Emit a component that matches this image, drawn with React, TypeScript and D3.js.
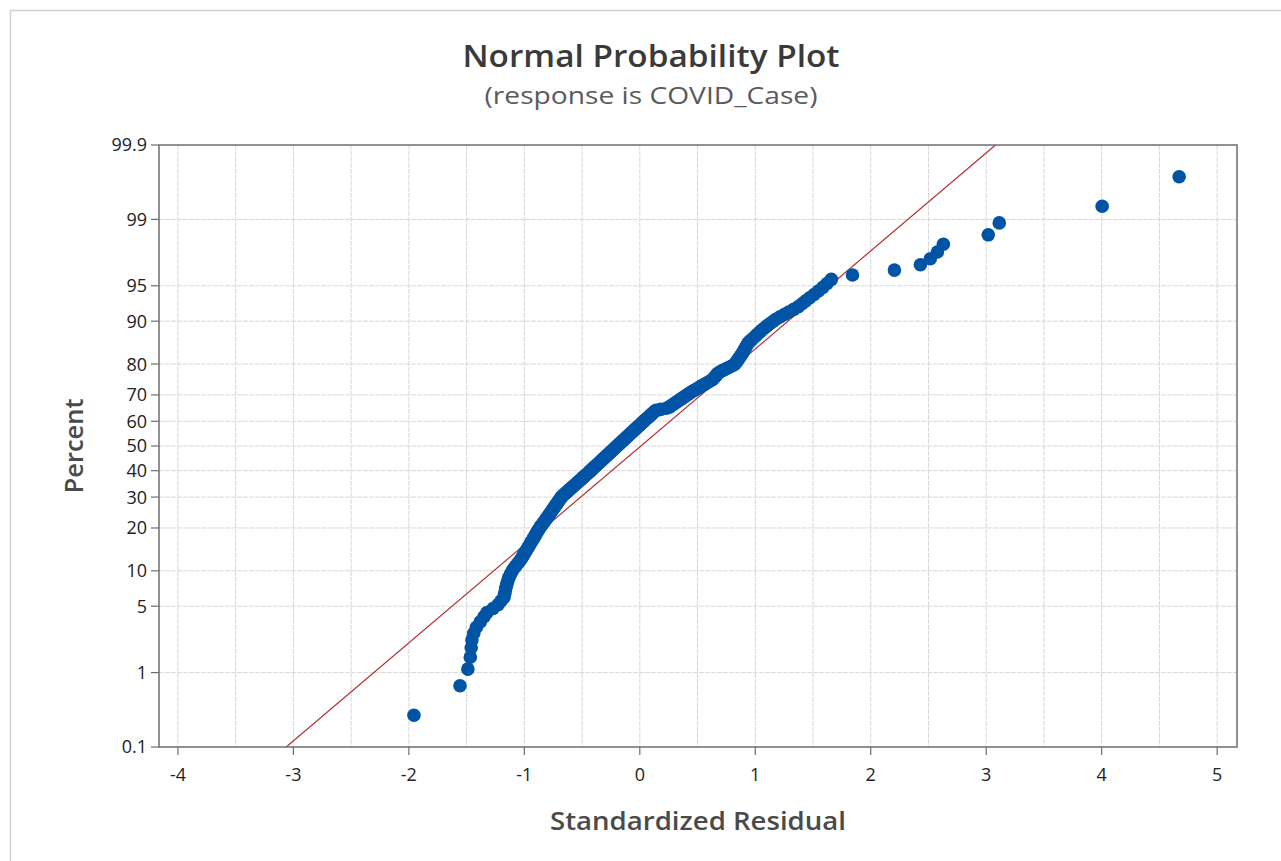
import React from "react";
import * as d3 from "d3";

// Sorted standardized residuals
const residuals: number[] = [
  -1.956, -1.557, -1.489, -1.468, -1.460, -1.454, -1.438, -1.415, -1.382, -1.351,
  -1.324, -1.271, -1.227, -1.203, -1.177, -1.171, -1.166, -1.161, -1.154, -1.148,
  -1.141, -1.134, -1.124, -1.113, -1.103, -1.090, -1.075, -1.061, -1.047, -1.034,
  -1.022, -1.013, -1.003, -0.994, -0.984, -0.975, -0.966, -0.957, -0.949, -0.941,
  -0.932, -0.924, -0.916, -0.908, -0.901, -0.893, -0.886, -0.878, -0.871, -0.863,
  -0.854, -0.845, -0.836, -0.828, -0.819, -0.811, -0.803, -0.795, -0.787, -0.779,
  -0.772, -0.765, -0.757, -0.749, -0.742, -0.735, -0.728, -0.720, -0.713, -0.706,
  -0.699, -0.692, -0.685, -0.678, -0.670, -0.658, -0.648, -0.637, -0.625, -0.615,
  -0.604, -0.593, -0.583, -0.573, -0.562, -0.551, -0.541, -0.531, -0.520, -0.510,
  -0.500, -0.490, -0.480, -0.470, -0.459, -0.449, -0.440, -0.430, -0.420, -0.411,
  -0.402, -0.393, -0.383, -0.373, -0.363, -0.354, -0.345, -0.336, -0.326, -0.317,
  -0.308, -0.298, -0.289, -0.280, -0.271, -0.261, -0.252, -0.243, -0.233, -0.224,
  -0.215, -0.206, -0.196, -0.187, -0.178, -0.168, -0.159, -0.150, -0.140, -0.131,
  -0.122, -0.112, -0.103, -0.094, -0.084, -0.075, -0.066, -0.056, -0.047, -0.038,
  -0.028, -0.019, -0.010, 0.001, 0.010, 0.019, 0.029, 0.038, 0.047, 0.058,
  0.069, 0.078, 0.088, 0.099, 0.108, 0.118, 0.128, 0.140, 0.180, 0.230,
  0.254, 0.267, 0.281, 0.294, 0.308, 0.322, 0.337, 0.352, 0.365, 0.379,
  0.395, 0.409, 0.423, 0.438, 0.453, 0.471, 0.489, 0.506, 0.522, 0.539,
  0.559, 0.575, 0.594, 0.613, 0.631, 0.640, 0.650, 0.659, 0.669, 0.679,
  0.696, 0.719, 0.743, 0.766, 0.790, 0.814, 0.827, 0.836, 0.845, 0.854,
  0.862, 0.872, 0.881, 0.889, 0.897, 0.905, 0.913, 0.921, 0.930, 0.938,
  0.952, 0.970, 0.986, 1.004, 1.020, 1.040, 1.057, 1.080, 1.102, 1.126,
  1.152, 1.178, 1.214, 1.252, 1.290, 1.333, 1.373, 1.405, 1.437, 1.472,
  1.509, 1.547, 1.585, 1.621, 1.659, 1.842, 2.205, 2.430, 2.516, 2.577,
  2.629, 3.018, 3.113, 4.004, 4.671,
];

// Fitted normal reference line parameters
const lineMean = 0.009;
const lineSd = 0.994;

const yTickValues: number[] = [0.1, 1, 5, 10, 20, 30, 40, 50, 60, 70, 80, 90, 95, 99, 99.9];
const yTickLabels: string[] = ["0.1", "1", "5", "10", "20", "30", "40", "50", "60", "70", "80", "90", "95", "99", "99.9"];
const xTickValues: number[] = [-4, -3, -2, -1, 0, 1, 2, 3, 4, 5];
const xGridValues: number[] = [-4, -3.5, -3, -2.5, -2, -1.5, -1, -0.5, 0, 0.5, 1, 1.5, 2, 2.5, 3, 3.5, 4, 4.5, 5];

const titleText = "Normal Probability Plot";
const subtitleText = "(response is COVID_Case)";
const xLabel = "Standardized Residual";
const yLabel = "Percent";

// inverse standard normal CDF (Acklam)
function qnorm(p: number): number {
  const a = [-3.969683028665376e1, 2.209460984245205e2, -2.759285104469687e2, 1.38357751867269e2, -3.066479806614716e1, 2.506628277459239];
  const b = [-5.447609879822406e1, 1.615858368580409e2, -1.556989798598866e2, 6.680131188771972e1, -1.328068155288572e1];
  const c = [-7.784894002430293e-3, -3.223964580411365e-1, -2.400758277161838, -2.549732539343734, 4.374664141464968, 2.938163982698783];
  const d = [7.784695709041462e-3, 3.224671290700398e-1, 2.445134137142996, 3.754408661907416];
  const pl = 0.02425;
  if (p < pl) {
    const q = Math.sqrt(-2 * Math.log(p));
    return (((((c[0] * q + c[1]) * q + c[2]) * q + c[3]) * q + c[4]) * q + c[5]) / ((((d[0] * q + d[1]) * q + d[2]) * q + d[3]) * q + 1);
  }
  if (p <= 1 - pl) {
    const q = p - 0.5;
    const r = q * q;
    return ((((((a[0] * r + a[1]) * r + a[2]) * r + a[3]) * r + a[4]) * r + a[5]) * q) / (((((b[0] * r + b[1]) * r + b[2]) * r + b[3]) * r + b[4]) * r + 1);
  }
  const q = Math.sqrt(-2 * Math.log(1 - p));
  return -(((((c[0] * q + c[1]) * q + c[2]) * q + c[3]) * q + c[4]) * q + c[5]) / ((((d[0] * q + d[1]) * q + d[2]) * q + d[3]) * q + 1);
}

const W = 1281;
const H = 861;
const plotL = 159;
const plotR = 1237;
const plotT = 145;
const plotB = 747;
const FONT = "'Open Sans', 'Noto Sans', sans-serif";

export default function App() {
  const x = d3.scaleLinear().domain([-4.164, 5.172]).range([plotL, plotR]);
  const zMax = qnorm(0.999);
  const yz = d3.scaleLinear().domain([-zMax, zMax]).range([plotB, plotT]);
  const y = (pct: number) => yz(qnorm(pct / 100));

  const n = residuals.length;
  const pts = residuals.map((r, i) => ({ r, pct: ((i + 1 - 0.3) / (n + 0.4)) * 100 }));

  const lineZ0 = -zMax;
  const lineZ1 = zMax;
  const lx0 = x(lineMean + lineSd * lineZ0);
  const lx1 = x(lineMean + lineSd * lineZ1);

  return (
    <svg width={W} height={H} style={{ position: "absolute", left: 0, top: 0, display: "block", background: "#fff" }}>
      <defs>
        <clipPath id="plotclip">
          <rect x={plotL} y={plotT} width={plotR - plotL} height={plotB - plotT} />
        </clipPath>
      </defs>
      {/* outer frame */}
      <rect x={10.5} y={10.5} width={1300} height={900} fill="#fff" stroke="#d2d2d2" strokeWidth={1.5} />

      {/* titles */}
      <text x={651} y={67} textAnchor="middle" fontFamily={FONT} fontSize={30} fontWeight={600} fill="#3a3a3a" textLength={377} lengthAdjust="spacingAndGlyphs">
        {titleText}
      </text>
      <text x={651} y={104} textAnchor="middle" fontFamily={FONT} fontSize={23} fill="#5a5a5a" textLength={333} lengthAdjust="spacingAndGlyphs">
        {subtitleText}
      </text>

      {/* grid */}
      <g>
        {xGridValues.map((v) => (
          <line key={"gx" + v} x1={x(v)} x2={x(v)} y1={plotT} y2={plotB} stroke="#d8d8d8" strokeWidth={1} strokeDasharray="5 1" />
        ))}
        {yTickValues.slice(1, -1).map((v) => (
          <line key={"gy" + v} x1={plotL} x2={plotR} y1={y(v)} y2={y(v)} stroke="#d8d8d8" strokeWidth={1} strokeDasharray="5 1" />
        ))}
      </g>

      {/* reference line */}
      <g clipPath="url(#plotclip)">
        <line x1={lx0} y1={yz(lineZ0)} x2={lx1} y2={yz(lineZ1)} stroke="#b22d2d" strokeWidth={1.2} />
      </g>

      {/* points */}
      <g>
        {pts.map((p, i) => (
          <circle key={i} cx={x(p.r)} cy={y(p.pct)} r={6.8} fill="#0054a6" />
        ))}
      </g>

      {/* plot border */}
      <rect x={plotL} y={plotT} width={plotR - plotL} height={plotB - plotT} fill="none" stroke="#6e6e6e" strokeWidth={1.5} />

      {/* y ticks */}
      <g>
        {yTickValues.map((v, i) => (
          <g key={"yt" + v}>
            <line x1={plotL - 8} x2={plotL} y1={y(v)} y2={y(v)} stroke="#6e6e6e" strokeWidth={1.2} />
            <text x={plotL - 12} y={y(v)} dy="0.36em" textAnchor="end" fontFamily={FONT} fontSize={18} fill="#222">
              {yTickLabels[i]}
            </text>
          </g>
        ))}
      </g>

      {/* x ticks */}
      <g>
        {xTickValues.map((v) => (
          <g key={"xt" + v}>
            <line x1={x(v)} x2={x(v)} y1={plotB} y2={plotB + 8} stroke="#6e6e6e" strokeWidth={1.2} />
            <text x={x(v)} y={plotB + 34} textAnchor="middle" fontFamily={FONT} fontSize={18} fill="#222">
              {String(v)}
            </text>
          </g>
        ))}
      </g>

      {/* axis labels */}
      <text x={(plotL + plotR) / 2} y={830} textAnchor="middle" fontFamily={FONT} fontSize={25} fontWeight={600} fill="#4a4a4a" textLength={296} lengthAdjust="spacingAndGlyphs">
        {xLabel}
      </text>
      <text transform={`translate(83, ${(plotT + plotB) / 2}) rotate(-90)`} textAnchor="middle" fontFamily={FONT} fontSize={25} fontWeight={600} fill="#4a4a4a" textLength={95} lengthAdjust="spacingAndGlyphs">
        {yLabel}
      </text>
    </svg>
  );
}
